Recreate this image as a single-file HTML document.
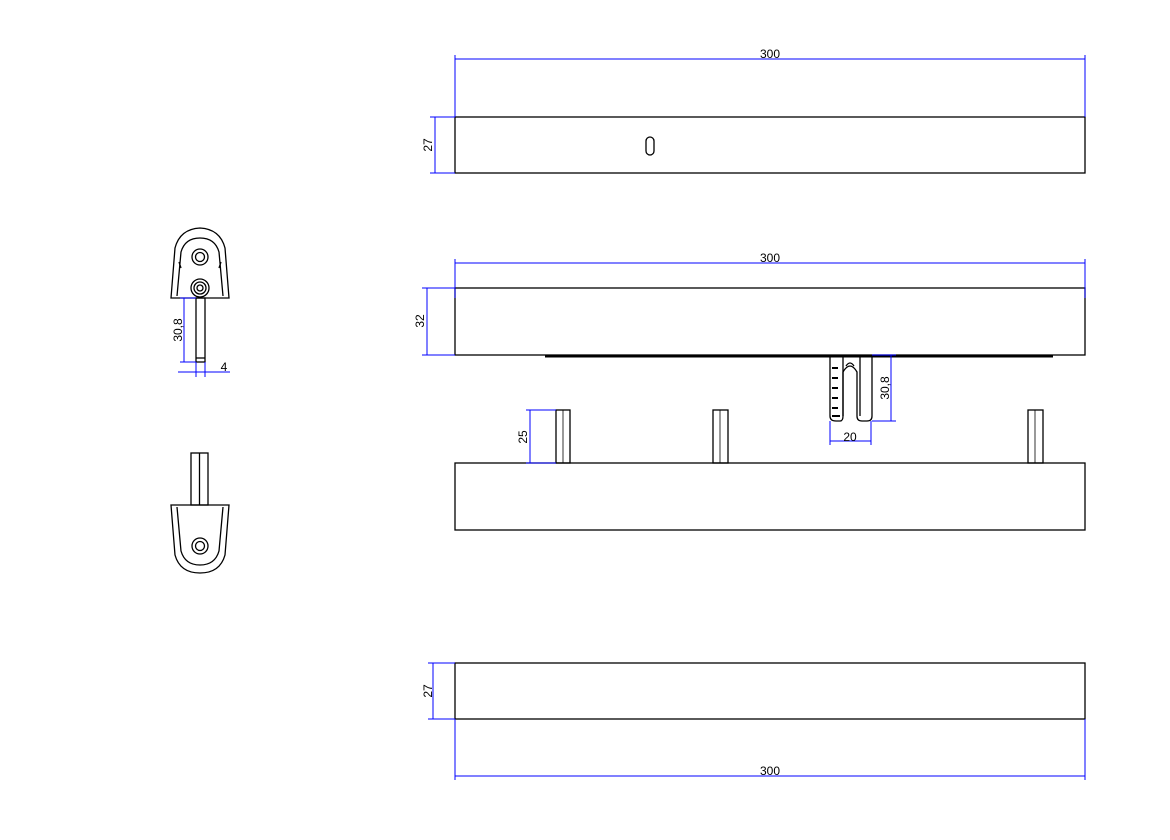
<!DOCTYPE html>
<html><head><meta charset="utf-8"><style>body{margin:0;background:#fff}svg{display:block}text{font-family:"Liberation Sans",sans-serif;font-size:12px;fill:#000}</style></head><body>
<svg width="1170" height="840" viewBox="0 0 1170 840" xmlns="http://www.w3.org/2000/svg">
<g fill="none" stroke="#000" stroke-width="1.3">
<rect x="455" y="117" width="630" height="56"/>
<rect x="646" y="137" width="8" height="18" rx="4"/>
<rect x="455" y="288" width="630" height="67"/>
<line x1="545" y1="356.5" x2="1053" y2="356.5" stroke-width="2"/>
<rect x="455" y="463" width="630" height="67"/>
<rect x="455" y="663" width="630" height="56"/>
<!-- pins -->
<rect x="556" y="410" width="14" height="53"/><line x1="563" y1="410" x2="563" y2="463" stroke-width="0.8"/>
<rect x="713" y="410" width="15" height="53"/><line x1="720" y1="410" x2="720" y2="463" stroke-width="0.8"/>
<rect x="1028" y="410" width="15" height="53"/><line x1="1035" y1="410" x2="1035" y2="463" stroke-width="0.8"/>
<!-- hook -->
<path d="M830 356 V416 Q830 421 836 421 H840 Q843 421 843 416 V356"/>
<path d="M843 416 V372 Q850 360 857 372 V416 Q857 421 862 421 H867 Q872 421 872 416 V356"/>
<path d="M846 366 Q850 360 854 366" />
<path d="M860 356 V416"/>
<path d="M832 368h6M832 378h6M832 388h6M832 398h6M832 408h6M832 416h8" stroke-width="2"/>
<!-- left top cap -->
<path d="M171 298 L175 248 Q180 229 200 228 Q220 229 225 248 L229 298 Z"/>
<path d="M177 296 L181 252 Q185 238 200 238 Q215 238 219 252 L223 296"/>
<line x1="179" y1="262" x2="181" y2="268"/><line x1="221" y1="262" x2="219" y2="268"/>
<circle cx="200" cy="257" r="8"/><circle cx="200" cy="257" r="4.5"/>
<circle cx="200" cy="288" r="9"/><circle cx="200" cy="288" r="6"/><circle cx="200" cy="288" r="3"/>
<rect x="196" y="298" width="9" height="64"/><line x1="196" y1="358" x2="205" y2="358"/>
<!-- left bottom cap -->
<rect x="191" y="453" width="17" height="52"/><line x1="199.5" y1="453" x2="199.5" y2="505"/>
<path d="M171 505 L175 555 Q180 573 200 573 Q220 573 225 555 L229 505 Z"/>
<path d="M177 507 L181 551 Q185 565 200 565 Q215 565 219 551 L223 507"/>
<circle cx="200" cy="546" r="8"/><circle cx="200" cy="546" r="4.5"/>
</g>
<g stroke="#00f" stroke-width="1" fill="none">
<line x1="455" y1="55" x2="455" y2="117"/><line x1="1085" y1="55" x2="1085" y2="117"/><line x1="455" y1="59" x2="1085" y2="59"/>
<line x1="430" y1="117" x2="455" y2="117"/><line x1="430" y1="173" x2="455" y2="173"/><line x1="435" y1="117" x2="435" y2="173"/>
<line x1="455" y1="259" x2="455" y2="298"/><line x1="1085" y1="259" x2="1085" y2="298"/><line x1="455" y1="263" x2="1085" y2="263"/>
<line x1="422" y1="288" x2="455" y2="288"/><line x1="422" y1="355" x2="455" y2="355"/><line x1="427" y1="288" x2="427" y2="355"/>
<line x1="872" y1="355" x2="896" y2="355"/><line x1="872" y1="421" x2="896" y2="421"/><line x1="891" y1="355" x2="891" y2="421"/>
<line x1="830" y1="421" x2="830" y2="445"/><line x1="871" y1="421" x2="871" y2="445"/><line x1="830" y1="441" x2="871" y2="441"/>
<line x1="526" y1="410" x2="556" y2="410"/><line x1="526" y1="463" x2="556" y2="463"/><line x1="530" y1="410" x2="530" y2="463"/>
<line x1="428" y1="663" x2="455" y2="663"/><line x1="428" y1="719" x2="455" y2="719"/><line x1="433" y1="663" x2="433" y2="719"/>
<line x1="455" y1="719" x2="455" y2="780"/><line x1="1085" y1="719" x2="1085" y2="780"/><line x1="455" y1="776" x2="1085" y2="776"/>
<line x1="180" y1="298" x2="196" y2="298"/><line x1="180" y1="362" x2="196" y2="362"/><line x1="184" y1="298" x2="184" y2="362"/>
<line x1="196" y1="362" x2="196" y2="377"/><line x1="205" y1="362" x2="205" y2="377"/><line x1="178" y1="372" x2="230" y2="372"/>
</g>
<text x="770" y="58" text-anchor="middle">300</text>
<text x="770" y="262" text-anchor="middle">300</text>
<text x="770" y="775" text-anchor="middle">300</text>
<text x="850" y="441" text-anchor="middle">20</text>
<text x="224" y="371" text-anchor="middle">4</text>
<text transform="translate(432,145) rotate(-90)" text-anchor="middle">27</text>
<text transform="translate(432,691) rotate(-90)" text-anchor="middle">27</text>
<text transform="translate(424,321) rotate(-90)" text-anchor="middle">32</text>
<text transform="translate(527,437) rotate(-90)" text-anchor="middle">25</text>
<text transform="translate(889,388) rotate(-90)" text-anchor="middle">30,8</text>
<text transform="translate(182,330) rotate(-90)" text-anchor="middle">30,8</text>
</svg>
</body></html>
